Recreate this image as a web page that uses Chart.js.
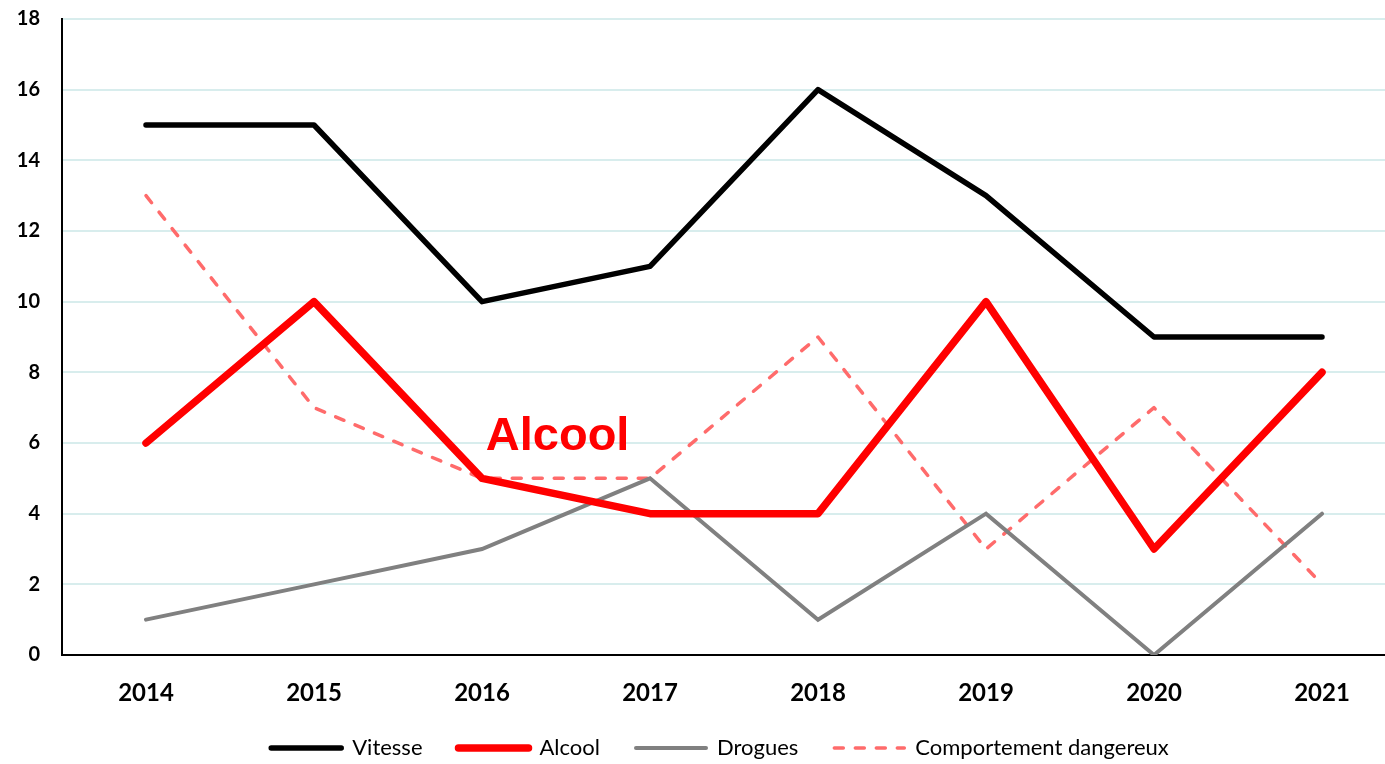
<!DOCTYPE html>
<html>
<head>
<meta charset="utf-8">
<script src="https://cdn.jsdelivr.net/npm/chart.js@4.4.1/dist/chart.umd.min.js"></script>
<style>
  html, body { margin: 0; padding: 0; background: #fff; overflow: hidden; }
  #wrap { width: 1406px; height: 769px; }
</style>
</head>
<body>
<div id="wrap"><canvas id="c" width="1406" height="769"></canvas></div>
<script>
const categories = ['2014', '2015', '2016', '2017', '2018', '2019', '2020', '2021'];
const vitesse = [15, 15, 10, 11, 16, 13, 9, 9];
const alcool = [6, 10, 5, 4, 4, 10, 3, 8];
const drogues = [1, 2, 3, 5, 1, 4, 0, 4];
const comportement = [13, 7, 5, 5, 9, 3, 7, 2];
const yTicks = [0, 2, 4, 6, 8, 10, 12, 14, 16, 18];
const annotationText = 'Alcool';
const annotationPos = { x: 2.45, y: 6.18 };

const annotationPlugin = {
  id: 'alcoolLabel',
  afterLayout(chart) {
    if (chart.legend) {
      chart.legend.left = 34;
      chart.legend.width = chart.legend.right - chart.legend.left;
    }
  },
  afterDatasetsDraw(chart) {
    const { ctx, scales } = chart;
    const x = scales.x.getPixelForValue(annotationPos.x);
    const y = scales.y.getPixelForValue(annotationPos.y);
    ctx.save();
    ctx.font = 'bold 47px "Liberation Sans", Arial, sans-serif';
    ctx.fillStyle = '#ff0000';
    ctx.textAlign = 'center';
    ctx.textBaseline = 'middle';
    ctx.fillText(annotationText, x, y);
    ctx.restore();
  }
};

const legendWidths = [5.5, 7.5, 4, 3.5];

new Chart(document.getElementById('c'), {
  type: 'line',
  data: {
    labels: categories,
    datasets: [
      { label: 'Vitesse', data: vitesse, borderColor: '#000000', backgroundColor: '#000000', borderWidth: 5.5, borderCapStyle: 'round', borderJoinStyle: 'round', pointRadius: 0, tension: 0 },
      { label: 'Alcool', data: alcool, borderColor: '#ff0000', backgroundColor: '#ff0000', borderWidth: 7.5, borderCapStyle: 'round', borderJoinStyle: 'round', pointRadius: 0, tension: 0 },
      { label: 'Drogues', data: drogues, borderColor: '#808080', backgroundColor: '#808080', borderWidth: 4, borderCapStyle: 'round', borderJoinStyle: 'miter', pointRadius: 0, tension: 0 },
      { label: 'Comportement dangereux', data: comportement, borderColor: '#ff6b6b', backgroundColor: '#ff6b6b', borderWidth: 3.5, borderDash: [9, 12], borderCapStyle: 'round', borderJoinStyle: 'round', pointRadius: 0, tension: 0 }
    ]
  },
  options: {
    responsive: false,
    animation: false,
    layout: { padding: { top: 6, left: 0, right: 0, bottom: 0 } },
    plugins: {
      tooltip: { enabled: false },
      legend: {
        position: 'bottom',
        labels: {
          usePointStyle: true,
          pointStyle: 'line',
          pointStyleWidth: 70,
          padding: 36,
          color: '#000',
          font: { family: 'Lato, "Open Sans", sans-serif', size: 22 },
          generateLabels(chart) {
            const items = Chart.defaults.plugins.legend.labels.generateLabels(chart);
            return items.map((it, i) => {
              const ds = chart.data.datasets[it.datasetIndex];
              it.lineDash = ds.borderDash || [];
              it.lineWidth = legendWidths[i];
              it.lineCap = 'round';
              it.strokeStyle = ds.borderColor;
              it.fillStyle = ds.borderColor;
              it.pointStyle = 'line';
              return it;
            });
          }
        }
      }
    },
    scales: {
      x: {
        offset: true,
        grid: { display: false, drawTicks: false },
        border: { color: '#000', width: 2 },
        ticks: { color: '#000', padding: 24, font: { family: 'Lato, "Open Sans", sans-serif', size: 24, weight: 'bold' } },
        afterFit(scale) { scale.height = 46; }
      },
      y: {
        min: 0, max: 18,
        afterBuildTicks(scale) { scale.ticks = yTicks.map(v => ({ value: v })); },
        grid: { color: '#d8eded', lineWidth: 2, drawTicks: false },
        border: { color: '#000', width: 2 },
        ticks: { color: '#000', padding: 22, font: { family: 'Lato, "Open Sans", sans-serif', size: 20, weight: 'bold' } },
        afterFit(scale) { scale.width = 62; scale.paddingTop = 19; scale.paddingBottom = 13; }
      }
    }
  },
  plugins: [annotationPlugin]
});
</script>
</body>
</html>
